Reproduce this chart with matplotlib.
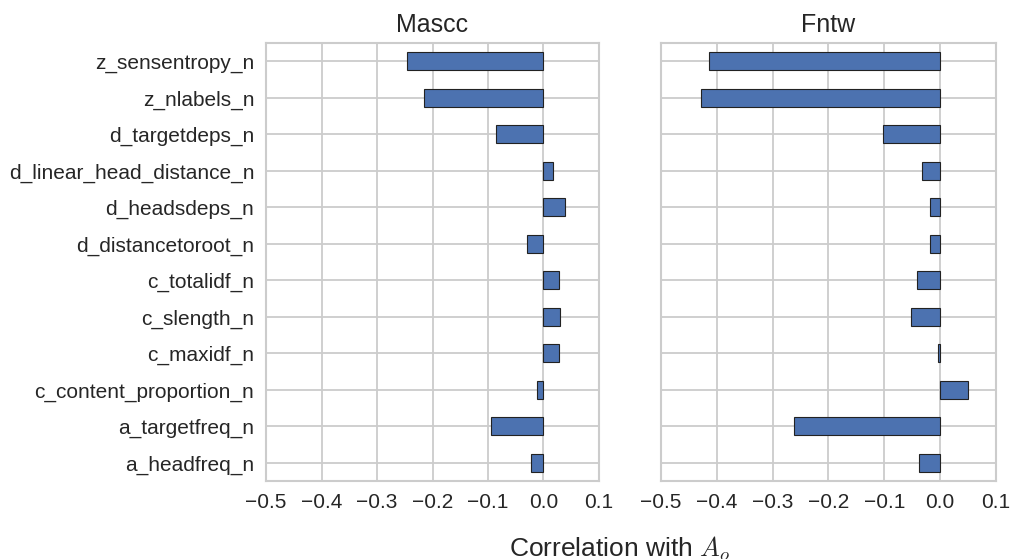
import matplotlib
matplotlib.use("Agg")
import matplotlib.pyplot as plt
import seaborn as sns
import numpy as np

features = ["a_headfreq_n", "a_targetfreq_n", "c_content_proportion_n", "c_maxidf_n",
            "c_slength_n", "c_totalidf_n", "d_distancetoroot_n", "d_headsdeps_n",
            "d_linear_head_distance_n", "d_targetdeps_n", "z_nlabels_n", "z_sensentropy_n"]
mascc = [-0.022, -0.094, -0.012, 0.028, 0.029, 0.028, -0.029, 0.038, 0.017, -0.085, -0.216, -0.246]
fntw = [-0.037, -0.262, 0.049, -0.004, -0.053, -0.042, -0.018, -0.018, -0.033, -0.102, -0.429, -0.414]
titles = ["Mascc", "Fntw"]
xticks = [-0.5, -0.4, -0.3, -0.2, -0.1, 0.0, 0.1]

sns.set_style("whitegrid")
plt.rcParams['font.family'] = ['Liberation Sans', 'DejaVu Sans']
plt.rcParams['mathtext.fontset'] = 'cm'

fig = plt.figure(figsize=(10.13, 5.59), dpi=100)
ax1 = fig.add_axes([0.2626, 0.1395, 0.3287, 0.7835])
ax2 = fig.add_axes([0.6525, 0.1395, 0.3307, 0.7835], sharey=ax1)

y = np.arange(len(features))
for ax, vals, title in zip([ax1, ax2], [mascc, fntw], titles):
    ax.barh(y, vals, height=0.5, color="#4C72B0", edgecolor="#222222", linewidth=0.8, zorder=3)
    ax.set_xlim(-0.5, 0.1)
    ax.set_ylim(-0.5, len(features) - 0.5)
    ax.set_xticks(xticks)
    ax.set_xticklabels([f"{t:.1f}".replace("-", "\u2212") for t in xticks])
    ax.set_title(title, fontsize=18, pad=8)
    ax.tick_params(labelsize=15, length=0, pad=8.5, labelcolor="#262626")
    ax.grid(True, color="#cccccc", linewidth=1.3, zorder=0)
    for s in ax.spines.values():
        s.set_color("#cccccc")
        s.set_linewidth(1.5)

ax1.set_yticks(y)
ax1.set_yticklabels(features)
plt.setp(ax2.get_yticklabels(), visible=False)

fig.text(0.612, 0.004, "Correlation with $A_o$", ha="center", va="baseline", fontsize=19,
         color="#262626")

fig.savefig("out.png", dpi=100)
